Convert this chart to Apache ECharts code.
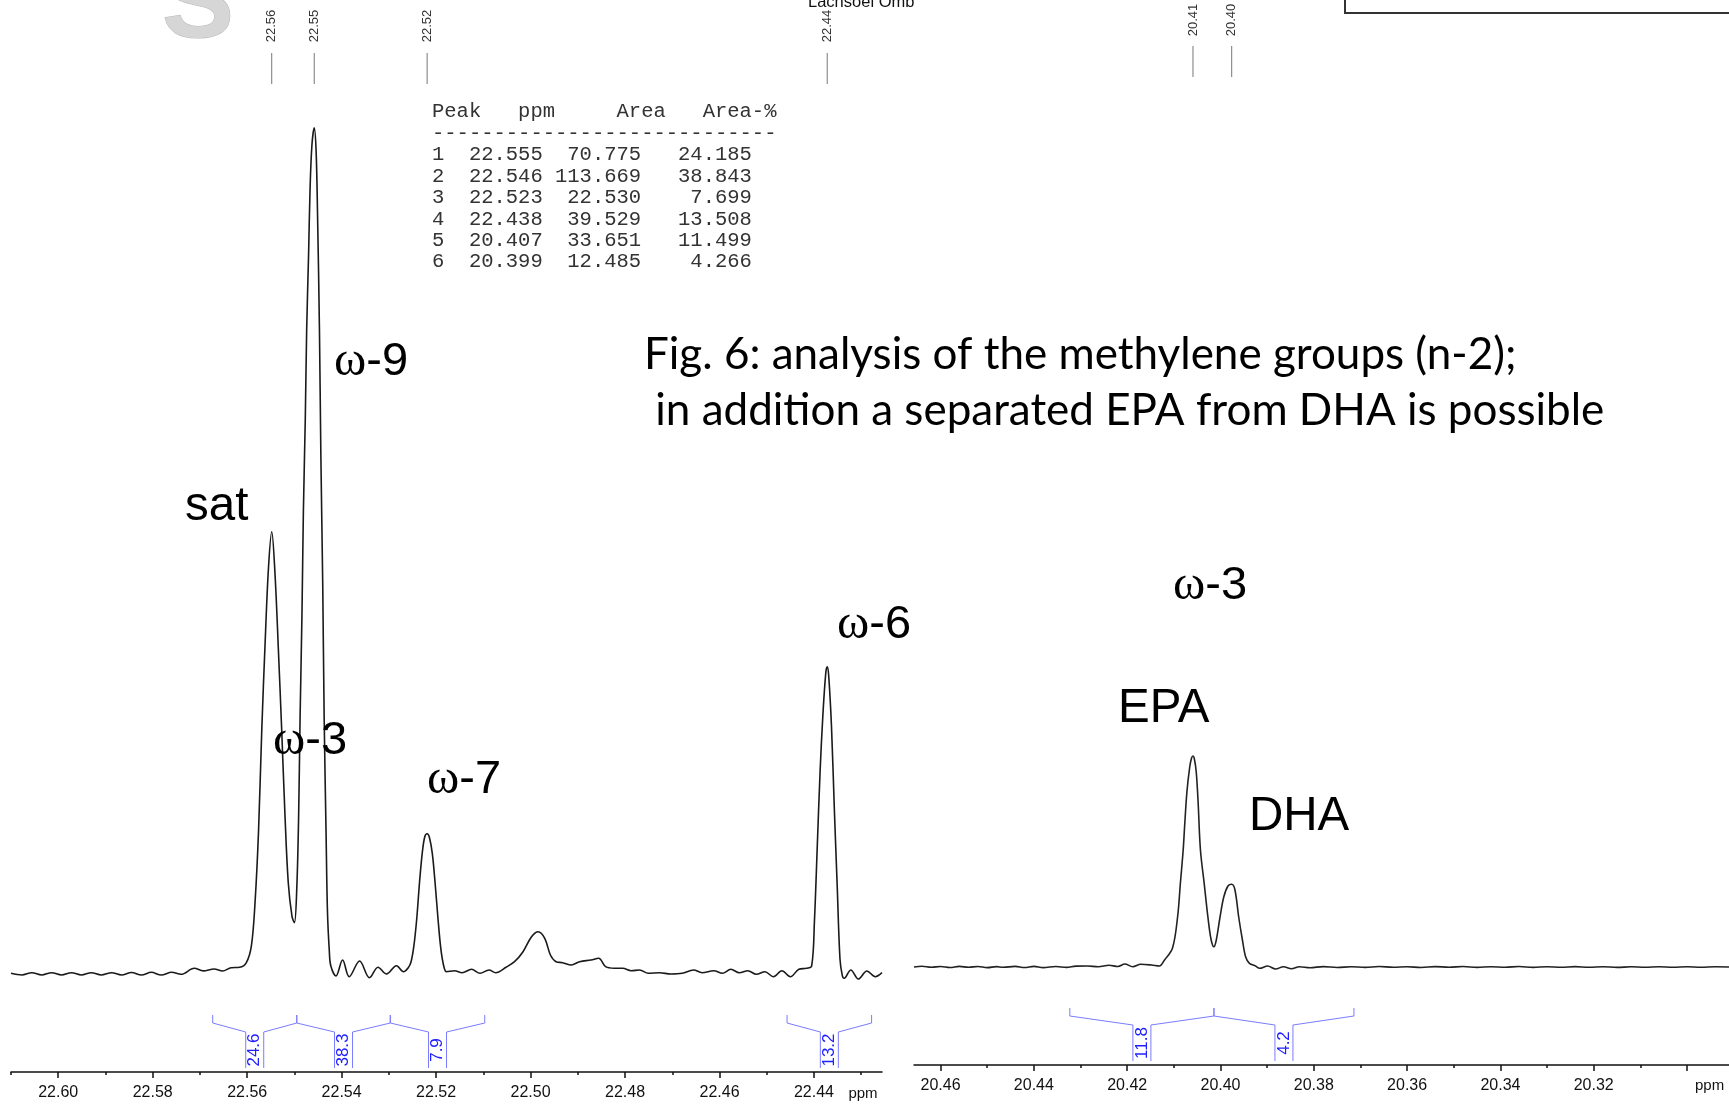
<!DOCTYPE html>
<html>
<head>
<meta charset="utf-8">
<script src="https://cdn.jsdelivr.net/npm/echarts@6.0.0/dist/echarts.min.js"></script>
<style>
html, body { margin: 0; padding: 0; background: #fff; }
#chart { width: 1729px; height: 1104px; }
</style>
</head>
<body>
<div id="chart"></div>
<script>
// spectrum 22.61 - 22.43 ppm  [ppm, intensity]
var leftSpectrum = [
  [22.6100, 0.4], [22.6077, -1.3], [22.6056, 1.0], [22.6035, -1.3], [22.6014, 1.0],
  [22.5993, -1.3], [22.5972, 1.0], [22.5951, -1.3], [22.5930, 1.0], [22.5909, -1.3],
  [22.5887, 1.0], [22.5866, -1.3], [22.5845, 1.2], [22.5824, -1.3], [22.5803, 1.4],
  [22.5782, -1.3], [22.5760, 1.4], [22.5740, -0.6], [22.5712, 5.4], [22.5693, 2.8],
  [22.5670, 4.7], [22.5652, 2.7], [22.5634, 6.0], [22.5616, 6.4], [22.5602, 10.8],
  [22.5591, 28], [22.5583, 74], [22.5576, 142], [22.5569, 245], [22.5562, 331],
  [22.5555, 405], [22.5548, 442], [22.5541, 399], [22.5534, 325], [22.5527, 245],
  [22.5520, 159], [22.5513, 91], [22.5505, 57], [22.5500, 51], [22.5495, 85],
  [22.5491, 159], [22.5488, 256], [22.5484, 359], [22.5481, 462], [22.5477, 554],
  [22.5474, 645], [22.5470, 719], [22.5467, 782], [22.5463, 828], [22.5458, 846],
  [22.5454, 822], [22.5451, 759], [22.5447, 645], [22.5444, 519], [22.5440, 388],
  [22.5437, 256], [22.5433, 142], [22.5430, 62], [22.5426, 22], [22.5423, 8],
  [22.5412, -2.3], [22.5398, 13.7], [22.5384, -3], [22.5362, 12.7], [22.5341, -4],
  [22.5323, 6.4], [22.5305, -0.3], [22.5284, 8], [22.5269, 2],
  [22.5259, 6], [22.5253, 12], [22.5247, 28], [22.5241, 55], [22.5235, 92],
  [22.5229, 122], [22.5224, 137], [22.5219, 140], [22.5214, 136], [22.5208, 120],
  [22.5202, 90], [22.5196, 55], [22.5190, 25], [22.5184, 8], [22.5178, 2],
  [22.5161, 3], [22.5145, 1], [22.5125, 4.4], [22.5107, 0.4], [22.5088, 3.7],
  [22.5074, 1], [22.5052, 6.4], [22.5034, 12], [22.5016, 22], [22.4998, 37],
  [22.4984, 42], [22.4970, 35.4], [22.4958, 18.7], [22.4946, 12], [22.4932, 11],
  [22.4914, 8.7], [22.4896, 12], [22.4872, 13.7], [22.4856, 15.4], [22.4841, 7],
  [22.4823, 5.4], [22.4805, 5.4], [22.4787, 3], [22.4769, 3.7], [22.4751, 0.4],
  [22.4727, 1], [22.4703, -0.3], [22.4679, 0.4], [22.4655, 3.7], [22.4637, 1],
  [22.4612, 3], [22.4594, 0.4], [22.4576, 4.4], [22.4558, 1], [22.4540, 3],
  [22.4522, -0.6], [22.4504, 2], [22.4486, -3], [22.4468, 3], [22.4450, -3],
  [22.4432, 4.4], [22.4416, 5.4], [22.4405, 7.5], [22.4399, 53], [22.4393, 128],
  [22.4387, 203], [22.4381, 260], [22.4375, 301], [22.4372, 307], [22.4369, 299],
  [22.4363, 248], [22.4357, 166], [22.4351, 90], [22.4345, 15], [22.4340, -2],
  [22.4336, -4.6], [22.4322, 3.7], [22.4306, -5.3], [22.4288, 2.7], [22.4270, -3],
  [22.4256, 1]
];

// spectrum 20.47 - 20.29 ppm
var rightSpectrum = [
  [20.4657, 0], [20.4640, 0.7], [20.4620, -0.3], [20.4600, 0.5], [20.4580, -0.5],
  [20.4560, 0.6], [20.4540, -0.3], [20.4520, 0.5], [20.4500, -0.6], [20.4480, 0.4],
  [20.4466, -0.3], [20.4440, 0.6], [20.4420, -0.5], [20.4400, 0.6], [20.4380, -0.6],
  [20.4353, 0.5], [20.4330, -0.4], [20.4310, 0.9], [20.4285, 1], [20.4262, 0.2],
  [20.4239, 1.7], [20.4220, 0.5], [20.4205, 3], [20.4188, 0.3], [20.4171, 2.7],
  [20.4148, 2], [20.4131, 1], [20.4120, 7], [20.4103, 18.7], [20.4092, 50],
  [20.4086, 83.7], [20.4080, 117], [20.4077, 140], [20.4072, 175], [20.4066, 200],
  [20.4062, 209], [20.4059, 211], [20.4056, 208], [20.4052, 195], [20.4048, 165],
  [20.4043, 117], [20.4035, 83.7], [20.4027, 50], [20.4020, 27], [20.4014, 20.3],
  [20.4009, 27], [20.4001, 50], [20.3993, 70], [20.3984, 81], [20.3976, 82.7],
  [20.3969, 77], [20.3961, 50], [20.3953, 27], [20.3946, 10], [20.3938, 3.7],
  [20.3925, 1], [20.3916, -1.3], [20.3899, 1], [20.3882, -2], [20.3865, 0.3],
  [20.3848, -1.7], [20.3831, 0.3], [20.3808, -0.7], [20.3780, 0.4], [20.3750, -0.5],
  [20.3720, 0.3], [20.3690, -0.4], [20.3660, 0.5], [20.3630, -0.3], [20.3600, 0.3],
  [20.3570, -0.5], [20.3540, 0.4], [20.3510, -0.2], [20.3480, 0.5], [20.3450, -0.4],
  [20.3420, 0.3], [20.3390, -0.3], [20.3360, 0.5], [20.3330, -0.4], [20.3300, 0.3],
  [20.3270, -0.3], [20.3240, 0.4], [20.3210, -0.3], [20.3180, 0.3], [20.3150, -0.4],
  [20.3120, 0.2], [20.3090, -0.3], [20.3060, 0.3], [20.3030, -0.2], [20.3000, 0.2],
  [20.2970, -0.2], [20.2940, 0.2], [20.2910, 0]
];

// axis ticks
var leftMajorTicks = [22.60, 22.58, 22.56, 22.54, 22.52, 22.50, 22.48, 22.46, 22.44];
var leftMinorTicks = [22.61, 22.59, 22.57, 22.55, 22.53, 22.51, 22.49, 22.47, 22.45, 22.43];
var rightMajorTicks = [20.46, 20.44, 20.42, 20.40, 20.38, 20.36, 20.34, 20.32, 20.30];
var rightTickLabels = [20.46, 20.44, 20.42, 20.40, 20.38, 20.36, 20.34, 20.32];
var rightMinorTicks = [20.45, 20.43, 20.41, 20.39, 20.37, 20.35, 20.33, 20.31];

// peak picking
var leftPickPpm = [22.5548, 22.5458, 22.5219, 22.4372];
var leftPickLabels = ['22.56', '22.55', '22.52', '22.44'];
var rightPickPpm = [20.4059, 20.3976];
var rightPickLabels = ['20.41', '20.40'];

// integrals [from, to]
var leftIntegrals = [[22.5673, 22.5495], [22.5495, 22.5297], [22.5297, 22.5097], [22.4457, 22.4278]];
var leftIntegralLabels = ['24.6', '38.3', '7.9', '13.2'];
var rightIntegrals = [[20.4323, 20.4014], [20.4014, 20.3714]];
var rightIntegralLabels = ['11.8', '4.2'];

// peak table
var tablePeak = ['1', '2', '3', '4', '5', '6'];
var tablePpm = ['22.555', '22.546', '22.523', '22.438', '20.407', '20.399'];
var tableArea = ['70.775', '113.669', '22.530', '39.529', '33.651', '12.485'];
var tablePct = ['24.185', '38.843', '7.699', '13.508', '11.499', '4.266'];

var tableLines = ['Peak' + 'ppm'.padStart(6) + 'Area'.padStart(9) + 'Area-%'.padStart(9), '-'.repeat(28)];
for (var i = 0; i < tablePeak.length; i++) {
  tableLines.push(tablePeak[i] + tablePpm[i].padStart(8) + tableArea[i].padStart(8) + tablePct[i].padStart(9));
}

var SANS = '"Liberation Sans", Arial, sans-serif';

function pickRenderer(labels, lineTop, lineBottom, textY) {
  return function (params, api) {
    var x = api.coord([api.value(0), 0])[0];
    return {
      type: 'group',
      children: [
        { type: 'line', shape: { x1: x, y1: lineTop, x2: x, y2: lineBottom },
          style: { stroke: '#777', lineWidth: 1 } },
        { type: 'text', x: x, y: textY, rotation: Math.PI / 2,
          style: { text: labels[params.dataIndex], fontSize: 13, fontFamily: SANS, fill: '#333',
                   align: 'center', verticalAlign: 'middle' } }
      ]
    };
  };
}

function integralRenderer(labels) {
  return function (params, api) {
    var cs = params.coordSys;
    var base = cs.y + cs.height;
    var x0 = api.coord([api.value(0), 0])[0];
    var x1 = api.coord([api.value(1), 0])[0];
    var xc = (x0 + x1) / 2, w = 9;
    var yTop = base - 57, yBend = base - 49, yLow = base - 40, yBot = base - 4;
    var st = { stroke: '#7b7bff', lineWidth: 1, fill: null };
    return {
      type: 'group',
      children: [
        { type: 'polyline', shape: { points: [[x0, yTop], [x0, yBend], [xc - w, yLow], [xc - w, yBot]] }, style: st },
        { type: 'polyline', shape: { points: [[x1, yTop], [x1, yBend], [xc + w, yLow], [xc + w, yBot]] }, style: st },
        { type: 'text', x: xc, y: base - 22, rotation: Math.PI / 2,
          style: { text: labels[params.dataIndex], fontSize: 17, fontFamily: SANS, fill: '#2020ff',
                   align: 'center', verticalAlign: 'middle' } }
      ]
    };
  };
}

function omega(txt, x, y) {
  return {
    type: 'text', x: x, y: y, z: 10,
    style: {
      text: '{w|ω}{n|' + txt + '}', align: 'left', verticalAlign: 'middle',
      rich: {
        w: { fontFamily: '"Liberation Serif", serif', fontSize: 49, fill: '#000' },
        n: { fontFamily: SANS, fontSize: 47, fill: '#000' }
      }
    }
  };
}

function plain(txt, x, y) {
  return { type: 'text', x: x, y: y, z: 10,
    style: { text: txt, fontFamily: SANS, fontSize: 47.5, fill: '#000', align: 'left', verticalAlign: 'middle' } };
}

var axisStyle = { color: '#111', width: 1.5 };

var option = {
  backgroundColor: '#fff',
  animation: false,
  grid: [
    { left: 11, width: 871, top: 0, bottom: 32 },
    { left: 914, right: 0, top: 0, bottom: 39 }
  ],
  xAxis: [
    { gridIndex: 0, type: 'value', min: 22.4256, max: 22.6100, inverse: true, position: 'bottom',
      axisLine: { onZero: false, lineStyle: axisStyle },
      axisTick: { customValues: leftMajorTicks, length: 6, lineStyle: axisStyle },
      axisLabel: { customValues: leftMajorTicks, formatter: function (v) { return v.toFixed(2); },
                   fontSize: 16, fontFamily: SANS, color: '#111', margin: 13 },
      splitLine: { show: false } },
    { gridIndex: 0, type: 'value', min: 22.4256, max: 22.6100, inverse: true, position: 'bottom',
      axisLine: { show: false, onZero: false },
      axisTick: { customValues: leftMinorTicks, length: 3, lineStyle: axisStyle },
      axisLabel: { show: false }, splitLine: { show: false } },
    { gridIndex: 1, type: 'value', min: 20.2910, max: 20.4657, inverse: true, position: 'bottom',
      axisLine: { onZero: false, lineStyle: axisStyle },
      axisTick: { customValues: rightMajorTicks, length: 6, lineStyle: axisStyle },
      axisLabel: { customValues: rightTickLabels, formatter: function (v) { return v.toFixed(2); },
                   fontSize: 16, fontFamily: SANS, color: '#111', margin: 13 },
      splitLine: { show: false } },
    { gridIndex: 1, type: 'value', min: 20.2910, max: 20.4657, inverse: true, position: 'bottom',
      axisLine: { show: false, onZero: false },
      axisTick: { customValues: rightMinorTicks, length: 3, lineStyle: axisStyle },
      axisLabel: { show: false }, splitLine: { show: false } }
  ],
  yAxis: [
    { gridIndex: 0, type: 'value', min: -98.3, max: 973.7, show: false },
    { gridIndex: 1, type: 'value', min: -98, max: 967, show: false }
  ],
  series: [
    { type: 'line', xAxisIndex: 0, yAxisIndex: 0, data: leftSpectrum, showSymbol: false,
      smooth: 0.35, lineStyle: { color: '#1a1a1a', width: 1.6 } },
    { type: 'line', xAxisIndex: 2, yAxisIndex: 1, data: rightSpectrum, showSymbol: false,
      smooth: 0.35, lineStyle: { color: '#222', width: 1.6 } },
    { type: 'custom', xAxisIndex: 0, yAxisIndex: 0, encode: { x: 0, y: 1 },
      data: leftPickPpm.map(function (v) { return [v, 0]; }),
      renderItem: pickRenderer(leftPickLabels, 53, 84, 26) },
    { type: 'custom', xAxisIndex: 2, yAxisIndex: 1, encode: { x: 0, y: 1 },
      data: rightPickPpm.map(function (v) { return [v, 0]; }),
      renderItem: pickRenderer(rightPickLabels, 46, 77, 20) },
    { type: 'custom', xAxisIndex: 0, yAxisIndex: 0, encode: { x: [0, 1] },
      data: leftIntegrals, renderItem: integralRenderer(leftIntegralLabels) },
    { type: 'custom', xAxisIndex: 2, yAxisIndex: 1, encode: { x: [0, 1] },
      data: rightIntegrals, renderItem: integralRenderer(rightIntegralLabels) }
  ],
  graphic: [
    // partial logo
    { type: 'text', x: 162, y: 7, z: 5,
      style: { text: 'S', fontSize: 108, fontWeight: 'bold', fontFamily: SANS, verticalAlign: 'middle',
               fill: '#d6d6d6', stroke: '#b8b8b8', lineWidth: 1,
               shadowBlur: 5, shadowColor: 'rgba(0,0,0,0.3)', shadowOffsetX: 2, shadowOffsetY: 2 } },
    { type: 'text', x: 808, y: 11, z: 5,
      style: { text: 'Lachsoel Omb', fontSize: 16.5, fontFamily: SANS, fill: '#111', verticalAlign: 'bottom' } },
    { type: 'rect', shape: { x: 914, y: 0, width: 60, height: 14 }, z: 6, style: { fill: '#fff' } },
    { type: 'rect', shape: { x: 1345, y: -8, width: 400, height: 21 }, z: 6,
      style: { fill: '#fff', stroke: '#333', lineWidth: 2 } },
    // peak table
    { type: 'text', x: 432, y: 101.3, z: 10,
      style: { text: tableLines.join('\n'), fontSize: 20.5, fontFamily: '"Liberation Mono", monospace',
               fill: '#333', lineHeight: 21.43, align: 'left', verticalAlign: 'top' } },
    // caption
    { type: 'text', x: 644, y: 355, z: 10,
      style: { text: 'Fig. 6: analysis of the methylene groups (n-2);', fontSize: 44, fontFamily: 'Lato, sans-serif',
               fill: '#000', align: 'left', verticalAlign: 'middle' } },
    { type: 'text', x: 644, y: 411, z: 10,
      style: { text: ' in addition a separated EPA from DHA is possible', fontSize: 44, fontFamily: 'Lato, sans-serif',
               fill: '#000', align: 'left', verticalAlign: 'middle' } },
    // peak annotations
    plain('sat', 185, 507),
    omega('-9', 334, 362),
    omega('-3', 273, 741),
    omega('-7', 427, 780),
    omega('-6', 837, 625),
    omega('-3', 1173, 586),
    plain('EPA', 1118, 709),
    plain('DHA', 1249, 817),
    // unit labels
    { type: 'text', x: 863, y: 1094, style: { text: 'ppm', fontSize: 15, fontFamily: SANS, fill: '#111',
      align: 'center', verticalAlign: 'middle' } },
    { type: 'text', x: 1695, y: 1086, style: { text: 'ppm', fontSize: 15, fontFamily: SANS, fill: '#111',
      align: 'left', verticalAlign: 'middle' } }
  ]
};

var chart = echarts.init(document.getElementById('chart'));
chart.setOption(option);
</script>
</body>
</html>
